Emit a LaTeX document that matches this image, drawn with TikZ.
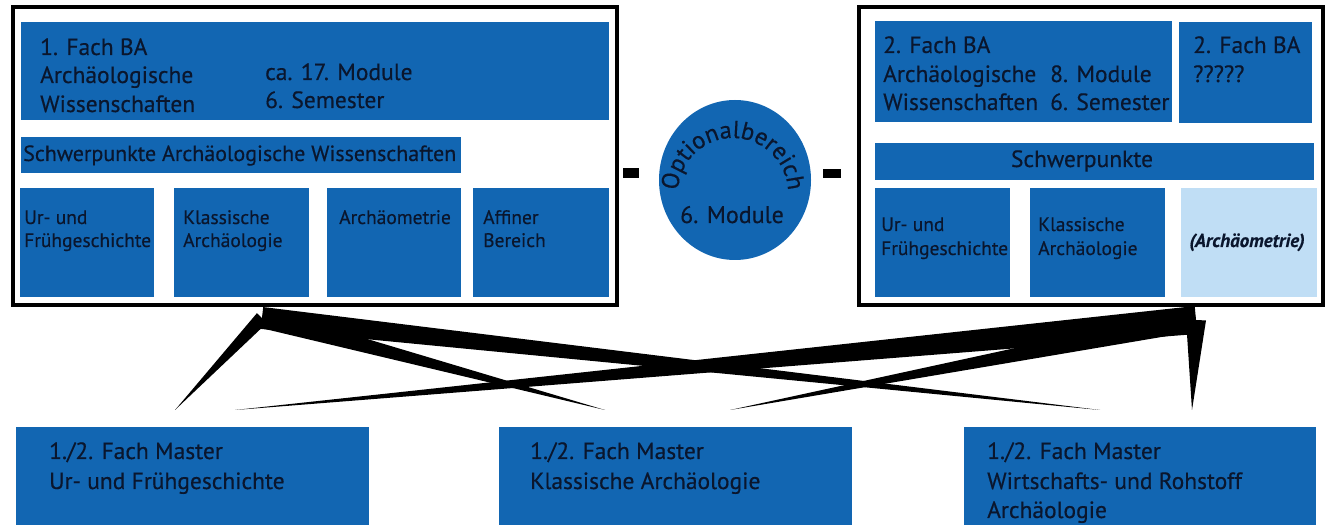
\documentclass[tikz,border=0pt]{standalone}
\usepackage{fontspec}
\setmainfont{PT Sans}[FakeBold=0.4]
\usetikzlibrary{calc,shapes.geometric,decorations.text}
\definecolor{boxblue}{RGB}{18,102,178}
\definecolor{lightblue}{RGB}{192,222,245}
\definecolor{ink}{RGB}{10,22,45}
\newcommand\taperline[3]{\fill[black] ($(#1)!#3!90:(#2)$) -- (#2) -- ($(#1)!#3!-90:(#2)$) -- cycle;}
\tikzset{
  bx/.style={fill=boxblue, draw=none, anchor=north west, inner sep=0, outer sep=0},
  frame/.style={draw=black, line width=3.5pt, fill=white, anchor=north west, inner sep=0, outer sep=0},
  big/.style={anchor=base west, inner sep=0, text=ink, font=\fontsize{23.5}{28}\selectfont},
  small/.style={anchor=base west, inner sep=0, text=ink, font=\fontsize{19.5}{23}\selectfont},
  mast/.style={anchor=base west, inner sep=0, text=ink, font=\fontsize{23.5}{28}\selectfont},
  dashbar/.style={fill=black, inner sep=0, outer sep=0},
}
\begin{document}
\begin{tikzpicture}[x=1pt,y=1pt]
\useasboundingbox (0,0) rectangle (1326,525);
\fill[white] (0,0) rectangle (1326,525);

% outer frames
\node[frame, minimum width=604, minimum height=298] (L) at (13,518) {};
\node[frame, minimum width=464, minimum height=298] (R) at (859,518) {};

% left inner boxes
\node[bx, minimum width=588, minimum height=98] (lt) at (21,503) {};
\node[bx, minimum width=440, minimum height=36] (ls) at (21,388) {};
\node[bx, minimum width=134, minimum height=109] (lb1) at (20,337) {};
\node[bx, minimum width=135, minimum height=109] (lb2) at (174,337) {};
\node[bx, minimum width=134, minimum height=109] (lb3) at (327,337) {};
\node[bx, minimum width=136, minimum height=109] (lb4) at (473,337) {};

% right inner boxes
\node[bx, minimum width=297, minimum height=101] (rt1) at (875,504) {};
\node[bx, minimum width=133, minimum height=101] (rt2) at (1179,503) {};
\node[bx, minimum width=439, minimum height=37] (rs) at (875,382) {};
\node[bx, minimum width=135, minimum height=109] (rb1) at (875,337) {};
\node[bx, minimum width=135, minimum height=109] (rb2) at (1030,337) {};
\node[bx, fill=lightblue, minimum width=136, minimum height=109] (rb3) at (1181,337) {};

% masters
\node[bx, minimum width=353, minimum height=98] (m1) at (16,98) {};
\node[bx, minimum width=353, minimum height=98] (m2) at (499,98) {};
\node[bx, minimum width=352, minimum height=98] (m3) at (964,98) {};

% circle and dashes
\node[ellipse, fill=boxblue, inner sep=0, minimum width=152, minimum height=160] (opt) at (735,345) {};
\node[dashbar, minimum width=16, minimum height=10] (d1) at (631,352) {};
\node[dashbar, minimum width=18, minimum height=9] (d2) at (832,351.5) {};
\coordinate (oc) at ($(opt.center)+(-2,-13)$);
\path[decorate, decoration={text along path, text align=center,
   text={|\fontsize{24.5}{28}\selectfont\color{ink}|Optionalbereich}}]
   ($(oc)+(195:55)$) arc[start angle=195, end angle=-15, radius=55];
\node[anchor=base, inner sep=0, text=ink, font=\fontsize{24}{28}\selectfont] (mod) at (732,302) {6. Module};

% left texts
\node[big] (a1) at (40,470) {1. Fach BA};
\node[big] (a2) at (40,442) {Archäologische};
\node[big] (a3) at (40,413) {Wissenschaften};
\node[big] (a4) at (265,445) {ca. 17. Module};
\node[big] (a5) at (265,417) {6. Semester};
\node[big, font=\fontsize{22}{26}\selectfont] (a6) at (23,364) {Schwerpunkte Archäologische Wissenschaften};
\node[small] (s1) at (24,301) {Ur- und};
\node[small] (s2) at (24,278) {Frühgeschichte};
\node[small] (s3) at (183,301) {Klassische};
\node[small] (s4) at (183,278) {Archäologie};
\node[small] (s5) at (339,301) {Archäometrie};
\node[small] (s6) at (483,301) {Affiner};
\node[small] (s7) at (483,278) {Bereich};

% right texts
\node[big] (b1) at (883,472) {2. Fach BA};
\node[big] (b2) at (883,443) {Archäologische};
\node[big] (b3) at (883,415) {Wissenschaften};
\node[big] (b4) at (1050,443) {8. Module};
\node[big] (b5) at (1050,415) {6. Semester};
\node[big] (b6) at (1193,472) {2. Fach BA};
\node[big] (b7) at (1193,443) {?????};
\node[big, anchor=base] (b8) at (1082,358) {Schwerpunkte};
\node[small] (r1) at (881,294) {Ur- und};
\node[small] (r2) at (881,270) {Frühgeschichte};
\node[small] (r3) at (1038,294) {Klassische};
\node[small] (r4) at (1038,270) {Archäologie};
\node[anchor=base, inner sep=0, text=ink, font=\fontsize{19}{22}\selectfont\bfseries\itshape] (r5) at (1247,278) {(Archäometrie)};

% master texts
\node[mast] (c1) at (49,66) {1./2. Fach Master};
\node[mast] (c2) at (49,36) {Ur- und Frühgeschichte};
\node[mast] (c3) at (530,66) {1./2. Fach Master};
\node[mast] (c4) at (530,36) {Klassische Archäologie};
\node[mast] (c5) at (987,66) {1./2. Fach Master};
\node[mast] (c6) at (987,36) {Wirtschafts- und Rohstoff};
\node[mast] (c7) at (987,7) {Archäologie};

% connectors
\coordinate (A) at ($(L.south west)+(249,-13)$);
\coordinate (B) at ($(R.south west)+(337,-15)$);
\coordinate (m1a) at ($(m1.north west)+(159,17)$);
\coordinate (m1b) at ($(m1.north west)+(219,17)$);
\coordinate (m2a) at ($(m2.north west)+(106,17)$);
\coordinate (m2b) at ($(m2.north west)+(231,17)$);
\coordinate (m3a) at ($(m3.north west)+(136,17)$);
\coordinate (m3b) at ($(m3.north west)+(228,17)$);
\taperline{A}{m1a}{7pt}
\taperline{A}{m2a}{10pt}
\taperline{A}{m3a}{11pt}
\taperline{B}{m1b}{14pt}
\taperline{B}{m2b}{11pt}
\taperline{B}{m3b}{10pt}
\end{tikzpicture}
\end{document}
